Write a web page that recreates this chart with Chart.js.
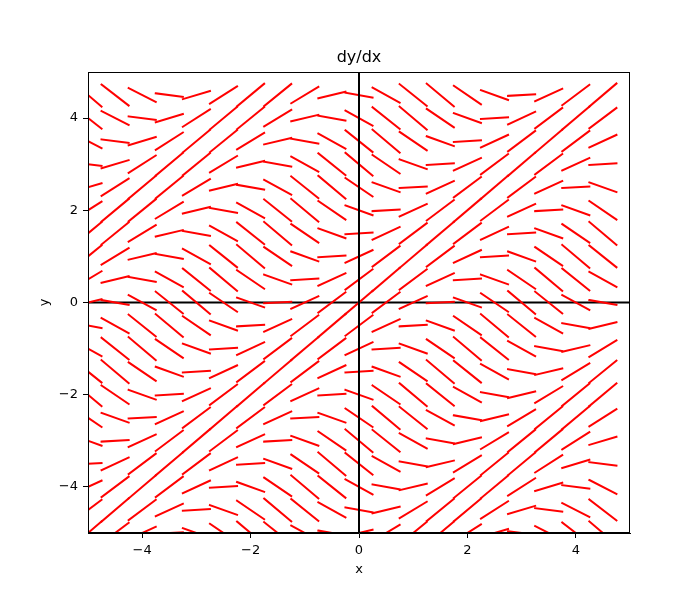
<!DOCTYPE html>
<html>
<head>
<meta charset="utf-8">
<title>dy/dx</title>
<script src="https://cdn.jsdelivr.net/npm/chart.js@4.4.0/dist/chart.umd.min.js"></script>
<style>
  body { margin: 0; background: #fff; }
</style>
</head>
<body>
<canvas id="slopeChart" width="700" height="600"></canvas>
<script>
// grid points where a slope segment sits
const xGrid = [-5, -4.5, -4, -3.5, -3, -2.5, -2, -1.5, -1, -0.5, 0, 0.5, 1, 1.5, 2, 2.5, 3, 3.5, 4, 4.5];
const yGrid = [-5, -4.5, -4, -3.5, -3, -2.5, -2, -1.5, -1, -0.5, 0, 0.5, 1, 1.5, 2, 2.5, 3, 3.5, 4, 4.5];

// slope, it only depends on |x - y| (steps of 0.5)
const slopeByOffset = [1.00, 0.88, 0.54, 0.07, -0.42, -0.80, -0.99, -0.94, -0.65, -0.21,
                       0.28, 0.71, 0.96, 0.98, 0.75, 0.35, -0.15, -0.60, -0.91, -1.00];

const tickValues = [-4, -2, 0, 2, 4];
const axisRange = [-5, 5];

const halfStep = 0.25;

// first dataset is drawn on top in chart.js
const datasets = [];

// x = 0 line, above the segments
datasets.push({
  data: [{ x: 0, y: axisRange[0] }, { x: 0, y: axisRange[1] }],
  borderColor: "#000", borderWidth: 2, pointRadius: 0, showLine: true
});

xGrid.forEach(x => {
  yGrid.forEach(y => {
    const m = slopeByOffset[Math.round(Math.abs(x - y) / 0.5)];
    datasets.push({
      data: [{ x: x - halfStep, y: y - halfStep * m }, { x: x + halfStep, y: y + halfStep * m }],
      borderColor: "#ff0000",
      borderWidth: 2,
      borderCapStyle: "square",
      pointRadius: 0,
      showLine: true
    });
  });
});

// y = 0 line, under the segments
datasets.push({
  data: [{ x: axisRange[0], y: 0 }, { x: axisRange[1], y: 0 }],
  borderColor: "#000", borderWidth: 2, pointRadius: 0, showLine: true
});

const frame = {
  id: "frame",
  afterDraw(chart) {
    const { ctx, chartArea: a } = chart;
    ctx.save();
    ctx.strokeStyle = "#000";
    ctx.lineWidth = 1;
    ctx.strokeRect(a.left + 0.5, a.top + 0.5, a.right - a.left - 1, a.bottom - a.top - 1);
    ctx.restore();
  }
};

const minus = v => String(v).replace("-", "\u2212");

function axis(label, fit) {
  return {
    type: "linear",
    min: axisRange[0],
    max: axisRange[1],
    afterBuildTicks: s => { s.ticks = tickValues.map(v => ({ value: v })); },
    afterFit: fit,
    grid: { display: true, drawOnChartArea: false, drawTicks: true, tickLength: 5, color: "#000" },
    border: { display: true, color: "#000", width: 1 },
    ticks: { color: "#000", padding: 5, font: { family: "DejaVu Sans", size: 13 }, callback: minus, maxRotation: 0 },
    title: { display: true, text: label, color: "#000", font: { family: "DejaVu Sans", size: 13 }, padding: 4 }
  };
}

new Chart(document.getElementById("slopeChart").getContext("2d"), {
  type: "scatter",
  data: { datasets: datasets },
  options: {
    responsive: false,
    animation: false,
    events: [],
    layout: { padding: { left: 33, right: 70, top: 40, bottom: 19 } },
    scales: {
      x: axis("x", s => { s.height = 48; }),
      y: axis("y", s => { s.width = 55; })
    },
    plugins: {
      legend: { display: false },
      tooltip: { enabled: false },
      title: {
        display: true,
        text: "dy/dx",
        fullSize: false,
        color: "#000",
        font: { family: "DejaVu Sans", size: 16, weight: "normal" },
        padding: { top: 8.4, bottom: 4.4 }
      }
    }
  },
  plugins: [frame]
});
</script>
</body>
</html>
